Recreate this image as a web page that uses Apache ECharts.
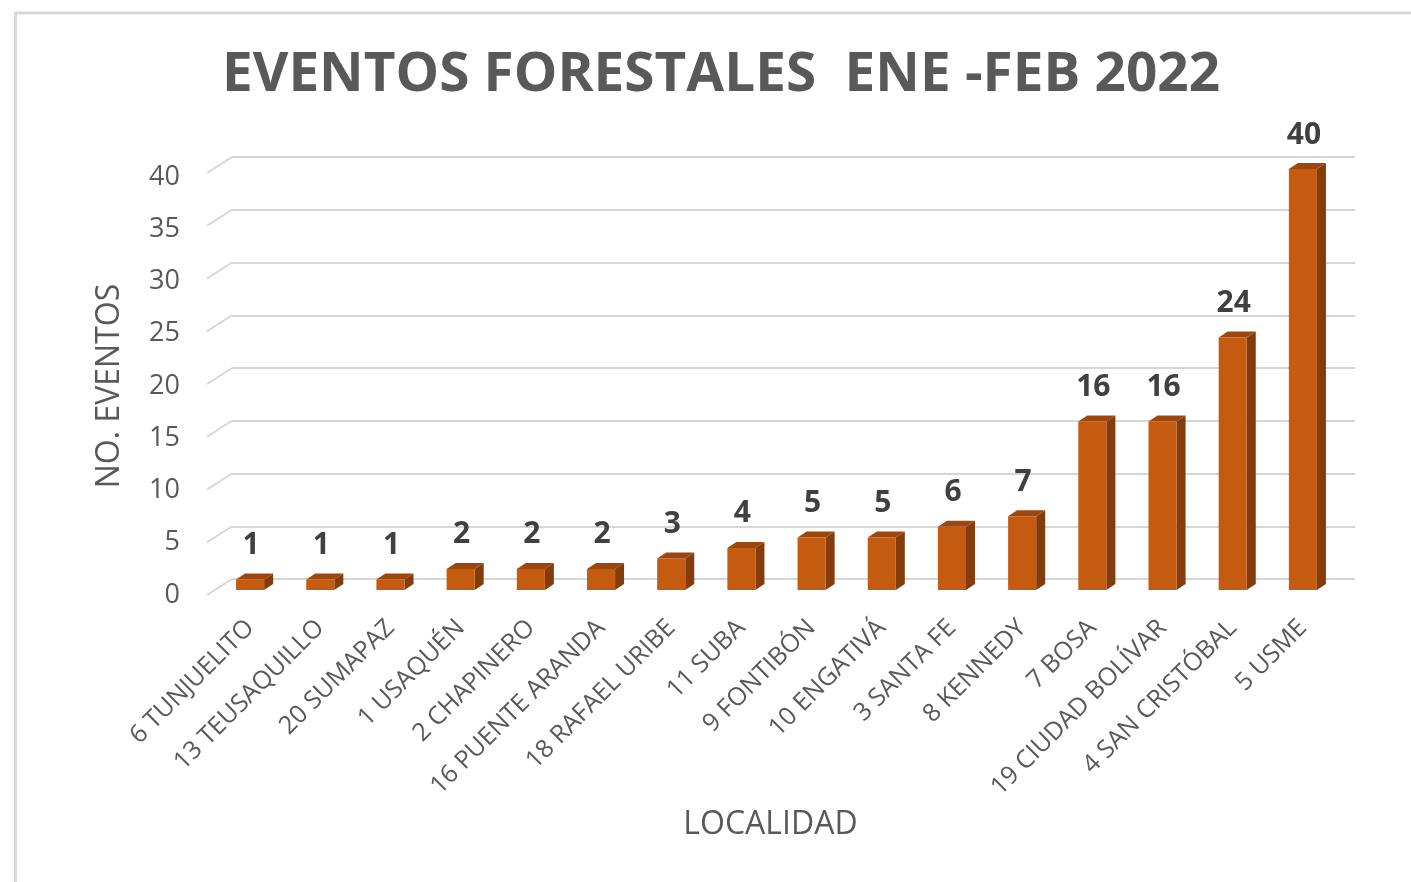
<!DOCTYPE html>
<html>
<head>
<meta charset="utf-8">
<script src="https://cdn.jsdelivr.net/npm/echarts@6/dist/echarts.min.js"></script>
<style>
  html, body { margin: 0; padding: 0; background: #ffffff; }
  #chart { width: 1411px; height: 882px; }
</style>
</head>
<body>
<div id="chart"></div>
<script>
// Localidades de Bogotá y número de eventos forestales (enero-febrero 2022)
const categories = [
  '6 TUNJUELITO', '13 TEUSAQUILLO', '20 SUMAPAZ', '1 USAQUÉN', '2 CHAPINERO',
  '16 PUENTE ARANDA', '18 RAFAEL URIBE', '11 SUBA', '9 FONTIBÓN', '10 ENGATIVÁ',
  '3 SANTA FE', '8 KENNEDY', '7 BOSA', '19 CIUDAD BOLÍVAR', '4 SAN CRISTÓBAL', '5 USME'
];
const eventos = [1, 1, 1, 2, 2, 2, 3, 4, 5, 5, 6, 7, 16, 16, 24, 40];
const yTicks = [0, 5, 10, 15, 20, 25, 30, 35, 40];

const titleText = 'EVENTOS FORESTALES  ENE -FEB 2022';
const TITLE_FONT = 'bold 54px "Open Sans"';

// Narrow the bold title to the width of the chart heading
function measure(font, text) {
  const c = document.createElement('canvas').getContext('2d');
  c.font = font;
  return c.measureText(text).width;
}
const titleScale = 998 / measure(TITLE_FONT, titleText);

// 3D column geometry (pixels)
const DEPTH_X = 9, DEPTH_Y = 6;
const WALL_X = 25, WALL_Y = 16;

const chart = echarts.init(document.getElementById('chart'), null, { renderer: 'canvas' });

const option = {
  backgroundColor: '#ffffff',
  animation: false,
  textStyle: { fontFamily: 'Open Sans' },
  grid: [
    // back wall (gridlines)
    { left: 232, right: 56, top: 157, bottom: 303 },
    // front plane (value labels)
    { left: 207, right: 81, top: 177, bottom: 287 },
    // columns
    { left: 215, right: 73, top: 169, bottom: 292 }
  ],
  xAxis: [
    { gridIndex: 0, type: 'value', min: 0, max: 1, show: false },
    { gridIndex: 1, type: 'value', min: 0, max: 1, show: false },
    {
      gridIndex: 2, type: 'category', data: categories,
      axisLine: { show: false }, axisTick: { show: false },
      axisLabel: {
        rotate: 45, interval: 0, margin: 34,
        color: '#595959', fontSize: 25, fontFamily: 'Open Sans'
      },
      name: 'LOCALIDAD', nameLocation: 'middle', nameGap: 219,
      nameTextStyle: { color: '#595959', fontSize: 32, fontFamily: 'Open Sans', padding: [0, 12, 0, 0] }
    }
  ],
  yAxis: [
    {
      gridIndex: 0, type: 'value', min: 0, max: 40, interval: 5,
      axisLine: { show: false }, axisTick: { show: false }, axisLabel: { show: false },
      splitLine: { show: true, lineStyle: { color: '#d6d6d6', width: 2 } }
    },
    {
      gridIndex: 1, type: 'value', min: 0, max: 40, interval: 5,
      axisLine: { show: false }, axisTick: { show: false },
      splitLine: { show: false },
      axisLabel: { margin: 27, color: '#595959', fontSize: 27, fontFamily: 'Open Sans' },
      name: 'NO. EVENTOS', nameLocation: 'middle', nameGap: 81, nameRotate: 90,
      nameTextStyle: { color: '#595959', fontSize: 32, fontFamily: 'Open Sans' }
    },
    {
      gridIndex: 2, type: 'value', min: 0, max: 40, interval: 5, show: false
    }
  ],
  graphic: [
    {
      type: 'polyline', silent: true,
      shape: { points: [[15.5, 882], [15.5, 13], [1411, 13]] },
      style: { stroke: '#d9d9d9', lineWidth: 3, fill: null }
    },
    {
      type: 'text', silent: true,
      x: 721, y: 76, scaleX: titleScale, originX: 0, originY: 0,
      style: {
        text: titleText, font: TITLE_FONT, fill: '#595959',
        align: 'center', verticalAlign: 'middle'
      }
    }
  ],
  series: [
    {
      // diagonal floor/wall connectors at each gridline
      type: 'custom', xAxisIndex: 0, yAxisIndex: 0,
      data: yTicks,
      silent: true,
      renderItem: function (params, api) {
        const p = api.coord([0, api.value(0)]);
        return {
          type: 'line',
          shape: { x1: p[0], y1: p[1], x2: p[0] - WALL_X, y2: p[1] + WALL_Y },
          style: { stroke: '#d6d6d6', lineWidth: 2 }
        };
      }
    },
    {
      type: 'custom', xAxisIndex: 2, yAxisIndex: 2,
      data: eventos.map((v, i) => [i, v]),
      renderItem: function (params, api) {
        const i = api.value(0), v = api.value(1);
        const base = api.coord([i, 0]);
        const top = api.coord([i, v]);
        const cx = base[0];
        const half = api.size([1, 0])[0] * 0.2;
        const l = cx - half, r = cx + half;
        const b = base[1], t = top[1];
        return {
          type: 'group',
          children: [
            {
              type: 'polygon',
              shape: { points: [[r, b], [r, t], [r + DEPTH_X, t - DEPTH_Y], [r + DEPTH_X, b - DEPTH_Y]] },
              style: { fill: '#843C0C' }
            },
            {
              type: 'polygon',
              shape: { points: [[l, t], [r, t], [r + DEPTH_X, t - DEPTH_Y], [l + DEPTH_X, t - DEPTH_Y]] },
              style: { fill: '#9C4710' }
            },
            {
              type: 'rect',
              shape: { x: l, y: t, width: r - l, height: b - t },
              style: { fill: '#C55A11' }
            },
            {
              type: 'text',
              x: cx + 1, y: t - 34,
              style: {
                text: String(v), fill: '#404040',
                font: 'bold 30px "Open Sans"',
                align: 'center', verticalAlign: 'middle'
              }
            }
          ]
        };
      }
    }
  ]
};

chart.setOption(option);
</script>
</body>
</html>
